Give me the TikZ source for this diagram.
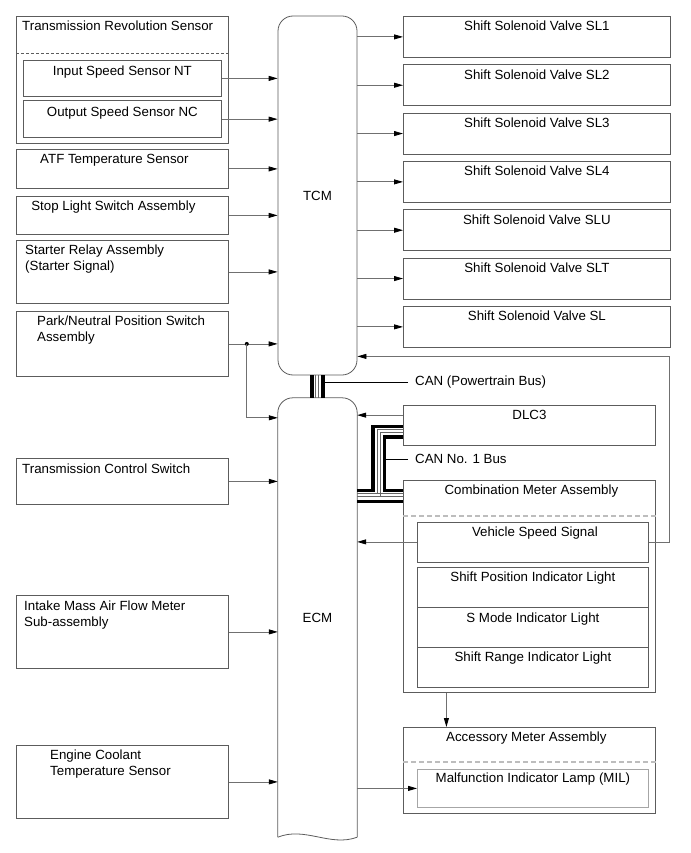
\documentclass[tikz,border=0pt]{standalone}
\usepackage{fontspec}
\setmainfont{Liberation Sans}
\usetikzlibrary{positioning,arrows.meta}
\definecolor{boxgray}{HTML}{5C5C5C}
\definecolor{linegray}{HTML}{707070}
\definecolor{dashgray}{HTML}{BDBDBD}

\begin{document}
\begin{tikzpicture}[x=1pt,y=-1pt,font=\fontsize{13.3}{16}\selectfont,
    unit/.style={draw=boxgray,line width=0.8pt,anchor=north west,inner sep=0pt},
    lbl/.style={inner sep=0pt,anchor=north,align=center},
    lbll/.style={inner sep=0pt,anchor=north west,align=left},
    arr/.style={draw=linegray,line width=0.8pt,-{Triangle[length=9pt,width=5pt,color=black]}},
    sepline/.style={dashgray,line width=1.6pt,dash pattern=on 5pt off 3pt},
    busthick/.style={black,line width=3.2pt},
    busthin/.style={black!60,line width=0.9pt},
    buslbl/.style={anchor=west,inner xsep=7pt,inner ysep=0pt}]
  \useasboundingbox (0,0) rectangle (690,853);

  % sensors and switches
  \node[unit,minimum width=212pt,minimum height=127pt] (trs) at (16,16) {};
  \node[lbll] (trst) at ([shift={(6,5)}]trs.north west) {Transmission Revolution Sensor};
  \draw[boxgray,line width=0.6pt,dash pattern=on 3pt off 2pt] ([yshift=-37pt]trs.north west) -- ([yshift=-37pt]trs.north east);
  \node[unit,minimum width=198pt,minimum height=36pt] (nt) at (23,60) {};
  \node[lbl] (ntt) at ([yshift=-6pt]nt.north) {Input Speed Sensor NT};
  \node[unit,minimum width=198pt,minimum height=36.5pt] (nc) at (23,100.5) {};
  \node[lbl] (nct) at ([yshift=-6pt]nc.north) {Output Speed Sensor NC};
  \node[unit,minimum width=212pt,minimum height=39pt] (atf) at (16,149) {};
  \node[lbl] (atft) at ([shift={(-8,5)}]atf.north) {ATF Temperature Sensor};
  \node[unit,minimum width=212pt,minimum height=38pt] (stop) at (16,196) {};
  \node[lbl] (stopt) at ([shift={(-9,5)}]stop.north) {Stop Light Switch Assembly};
  \node[unit,minimum width=212pt,minimum height=63pt] (starter) at (16,240) {};
  \node[lbll] (startert) at ([shift={(9,5)}]starter.north west) {Starter Relay Assembly\\(Starter Signal)};
  \node[unit,minimum width=212pt,minimum height=65pt] (pn) at (16,311) {};
  \node[lbll] (pnt) at ([shift={(21,5)}]pn.north west) {Park/Neutral Position Switch\\Assembly};
  \node[unit,minimum width=212pt,minimum height=46pt] (tcs) at (16,458) {};
  \node[lbll] (tcst) at ([shift={(6,6)}]tcs.north west) {Transmission Control Switch};
  \node[unit,minimum width=212pt,minimum height=73pt] (maf) at (16,595) {};
  \node[lbll] (maft) at ([shift={(8,6)}]maf.north west) {Intake Mass Air Flow Meter\\Sub-assembly};
  \node[unit,minimum width=212pt,minimum height=73pt] (ect) at (16,745) {};
  \node[lbll] (ectt) at ([shift={(34,5)}]ect.north west) {Engine Coolant\\Temperature Sensor};

  % control units
  \node[draw=boxgray,line width=0.8pt,rounded corners=15pt,minimum width=79pt,minimum height=359pt,inner sep=0pt] (tcm) at (317.5,195.5) {TCM};
  \node[minimum width=79pt,minimum height=439pt,inner sep=0pt] (ecm) at (317.5,617.5) {ECM};
  \draw[boxgray,line width=0.8pt,rounded corners=15pt] (ecm.south west) -- (ecm.north west) -- (ecm.north east) -- (ecm.south east);
  \draw[boxgray,line width=0.8pt] (ecm.south east) .. controls +(-27,10) and +(27,-11) .. (ecm.south west);

  % solenoids
  \foreach \sv [count=\i from 0] in {SL1,SL2,SL3,SL4,SLU,SLT,SL}{
    \node[unit,minimum width=267pt,minimum height=41pt] (sv\i) at (403,16+48.33*\i) {};
    \node[lbl] (svt\i) at ([yshift=-5pt]sv\i.north) {Shift Solenoid Valve \sv};
    \draw[arr] (sv\i.west -| tcm.east) -- (sv\i.west);
  }

  % meters
  \node[unit,minimum width=252pt,minimum height=39.5pt] (dlc) at (403,405) {};
  \node[lbl] (dlct) at ([yshift=-5pt]dlc.north) {DLC3};
  \node[unit,minimum width=252pt,minimum height=212pt] (comb) at (403,480) {};
  \node[lbl] (combt) at ([shift={(2,5)}]comb.north) {Combination Meter Assembly};
  \draw[sepline] ([yshift=-36pt]comb.north west) -- ([yshift=-36pt]comb.north east);
  \node[unit,minimum width=231pt,minimum height=40pt] (vss) at (417,521.5) {};
  \node[lbl] (vsst) at ([shift={(2,5)}]vss.north) {Vehicle Speed Signal};
  \node[unit,minimum width=231pt,minimum height=40pt] (spi) at (417,567) {};
  \node[lbl] (spit) at ([yshift=-5pt]spi.north) {Shift Position Indicator Light};
  \node[unit,minimum width=231pt,minimum height=40pt] (smi) at (417,607) {};
  \node[lbl] (smit) at ([yshift=-6pt]smi.north) {S Mode Indicator Light};
  \node[unit,minimum width=231pt,minimum height=40pt] (sri) at (417,647) {};
  \node[lbl] (srit) at ([yshift=-5pt]sri.north) {Shift Range Indicator Light};
  \node[unit,minimum width=252pt,minimum height=86pt] (acc) at (403,727) {};
  \node[lbl] (acct) at ([shift={(-3,5)}]acc.north) {Accessory Meter Assembly};
  \draw[sepline] ([yshift=-35pt]acc.north west) -- ([yshift=-35pt]acc.north east);
  \node[unit,draw=black!35,minimum width=231pt,minimum height=38pt] (mil) at (417,769) {};
  \node[lbl] (milt) at ([yshift=-4pt]mil.north) {Malfunction Indicator Lamp (MIL)};

  % signals
  \foreach \s in {nt,nc,atf,stop,starter,pn}
    \draw[arr] (\s.east) -- (\s.east -| tcm.west);
  \coordinate (pnj) at ([xshift=18pt]pn.east);
  \fill (pnj) circle (2pt);
  \draw[arr] (pnj) |- ([yshift=-20pt]ecm.north west);
  \foreach \s in {tcs,maf,ect}
    \draw[arr] (\s.east) -- (\s.east -| ecm.west);
  \draw[arr] ([yshift=10pt]dlc.west) -- ([yshift=10pt]dlc.west -| ecm.east);
  \draw[arr] (vss.west) -- (vss.west -| ecm.east);
  \draw[arr] (vss.east) -- ++(21,0) |- ([yshift=19pt]tcm.south east);
  \draw[arr] ([xshift=-83pt]comb.south) -- ([xshift=-83pt]acc.north);
  \draw[arr] (mil.west -| ecm.east) -- (mil.west);

  % CAN buses
  \foreach \dx in {-5.5,5.5}
    \draw[busthick] ([xshift=\dx pt]tcm.south) -- ([xshift=\dx pt]ecm.north);
  \foreach \dx in {-2,1}
    \draw[busthin] ([xshift=\dx pt]tcm.south) -- ([xshift=\dx pt]ecm.north);
  \node[buslbl] (canpt) at (408,382) {CAN (Powertrain Bus)};
  \draw[line width=0.8pt] (canpt.west) -- (canpt.west -| 325,0);
  \draw[busthick] (ecm.east |- 0,490.3) -| (373,426.3) -- (dlc.west |- 0,426.3);
  \draw[busthick] (dlc.west |- 0,437) -| (384.7,490.3) -- (comb.west |- 0,490.3);
  \draw[busthick] (ecm.east |- 0,501.7) -- (comb.west |- 0,501.7);
  \draw[busthin] (ecm.east |- 0,493.6) -- (comb.west |- 0,493.6);
  \draw[busthin] (ecm.east |- 0,496.6) -- (comb.west |- 0,496.6);
  \draw[busthin] (dlc.west |- 0,429.6) -| (377,493.6);
  \draw[busthin] (dlc.west |- 0,432.6) -| (380,496.6);
  \node[buslbl] (can1) at (408,459) {CAN No. 1 Bus};
  \draw[line width=0.8pt] (can1.west) -- (can1.west -| 386,0);
\end{tikzpicture}
\end{document}
